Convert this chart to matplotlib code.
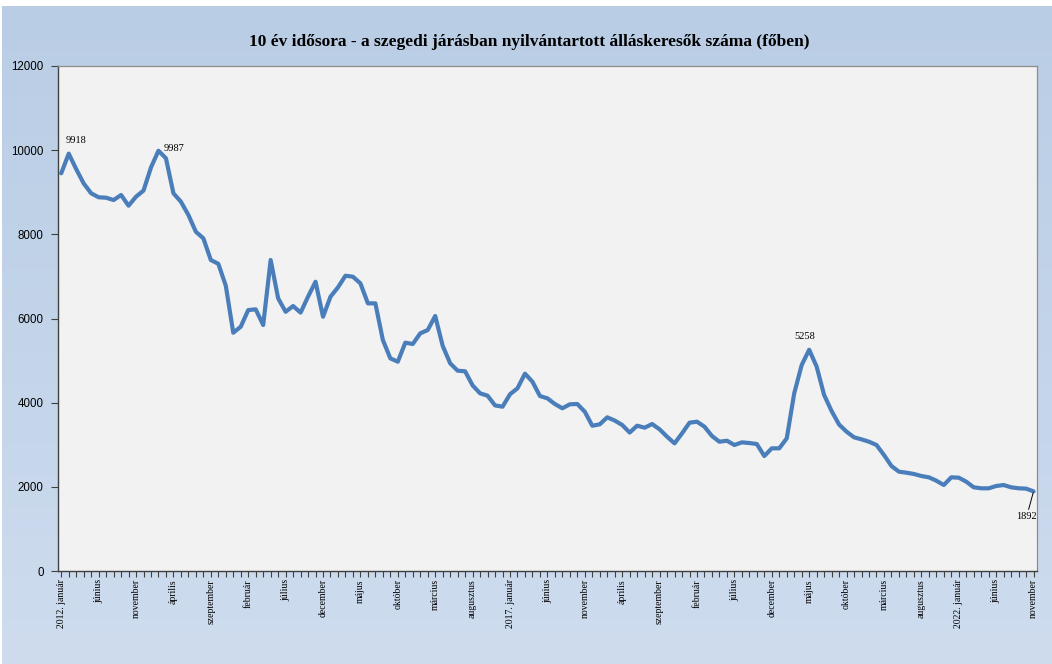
import numpy as np
import matplotlib.pyplot as plt

# monthly values, 2012 January .. 2022 November
values = [
    9450, 9918, 9550, 9210, 8975, 8880, 8870, 8815, 8935, 8680,
    8895, 9040, 9590, 9987, 9806, 8975, 8775, 8460, 8060, 7905,
    7390, 7300, 6780, 5662, 5805, 6200, 6218, 5845, 7390, 6480,
    6160, 6296, 6140, 6520, 6874, 6042, 6518, 6740, 7017, 6993,
    6835, 6360, 6360, 5490, 5053, 4973, 5425, 5394, 5647, 5726,
    6060, 5350, 4935, 4760, 4745, 4410, 4222, 4166, 3935, 3904,
    4200, 4341, 4690, 4498, 4158, 4103, 3968, 3866, 3961, 3968,
    3785, 3452, 3485, 3652, 3575, 3470, 3290, 3453, 3405, 3493,
    3366, 3191, 3033, 3271, 3524, 3548, 3429, 3208, 3072, 3096,
    2994, 3057, 3041, 3017, 2732, 2915, 2915, 3152, 4222, 4895,
    5258, 4855, 4182, 3800, 3480, 3310, 3176, 3128, 3072, 2994,
    2756, 2495, 2360, 2336, 2305, 2257, 2226, 2146, 2043, 2226,
    2218, 2122, 1989, 1965, 1965, 2020, 2043, 1989, 1965, 1957,
    1892,
]
months = ['január', 'február', 'március', 'április', 'május', 'június',
          'július', 'augusztus', 'szeptember', 'október', 'november', 'december']
start_year = 2012
labelled = [1, 13, 100, 130]   # points with value labels

title = '10 év idősora - a szegedi járásban nyilvántartott álláskeresők száma (főben)'

n = len(values)
x = np.arange(n)
tick_labels = []
for i in range(0, n, 5):
    m = i % 12
    if m == 0:
        tick_labels.append(f'{start_year + i // 12}. {months[m]}')
    else:
        tick_labels.append(months[m])

W, H = 1052, 664
fig = plt.figure(figsize=(W / 100, H / 100), dpi=100)

# blue gradient background
bg = fig.add_axes([2 / W, 0, 1 - 2 / W, 658 / H], zorder=-10)
top = np.array([185, 205, 229]) / 255
bot = np.array([206, 220, 238]) / 255
t = np.linspace(0, 1, 256)[:, None, None]
grad = top * (1 - t) + bot * t
grad = np.repeat(grad, 2, axis=1)
bg.imshow(grad, aspect='auto', extent=[0, 1, 0, 1])
bg.axis('off')

ax = fig.add_axes([57.5 / W, (H - 571) / H, (1037.3 - 57.5) / W, (571 - 66) / H])
ax.set_facecolor('#f2f2f2')
ax.plot(x, values, color='#4a7ebb', lw=3.0, solid_joinstyle='round', solid_capstyle='round')

ax.set_xlim(-0.5, n - 0.5)
ax.set_ylim(0, 12000)
ax.set_yticks(range(0, 12001, 2000))
ax.set_yticklabels([str(v) for v in range(0, 12001, 2000)],
                   fontsize=8.3, family='Liberation Sans')
ax.set_xticks(x, minor=True)
ax.set_xticks(np.arange(0, n, 5))
ax.set_xticklabels(tick_labels, rotation=90, fontsize=7, family='Liberation Serif',
                   va='top', ha='center')
ax.tick_params(axis='x', which='both', length=4, width=0.8, color='#404040', pad=2)
ax.tick_params(axis='y', length=5, width=0.8, color='#404040', pad=5)

for s in ['top', 'right']:
    ax.spines[s].set_color('#8c8c8c')
    ax.spines[s].set_linewidth(0.9)
for s in ['left', 'bottom']:
    ax.spines[s].set_color('#404040')
    ax.spines[s].set_linewidth(1.0)

# value labels
offsets = {1: (5, 6, 'center', 'bottom'), 13: (4, -2, 'left', 'bottom'),
           100: (-3, 6, 'center', 'bottom'), 130: (-5, -15, 'center', 'top')}
for i in labelled:
    dx, dy, ha, va = offsets[i]
    if i == 130:
        ax.annotate(str(values[i]), (x[i], values[i]), xytext=(dx, dy),
                    textcoords='offset points', ha=ha, va=va, fontsize=7.5,
                    family='Liberation Serif',
                    arrowprops=dict(arrowstyle='-', color='black', lw=0.7,
                                    shrinkA=0, shrinkB=1))
    else:
        ax.annotate(str(values[i]), (x[i], values[i]), xytext=(dx, dy),
                    textcoords='offset points', ha=ha, va=va, fontsize=7.5,
                    family='Liberation Serif')

fig.text(529.5 / W, 1 - 42 / H, title, ha='center', va='center',
         fontsize=12.5, fontweight='bold', family='Liberation Serif')

fig.savefig('out.png', dpi=100)
